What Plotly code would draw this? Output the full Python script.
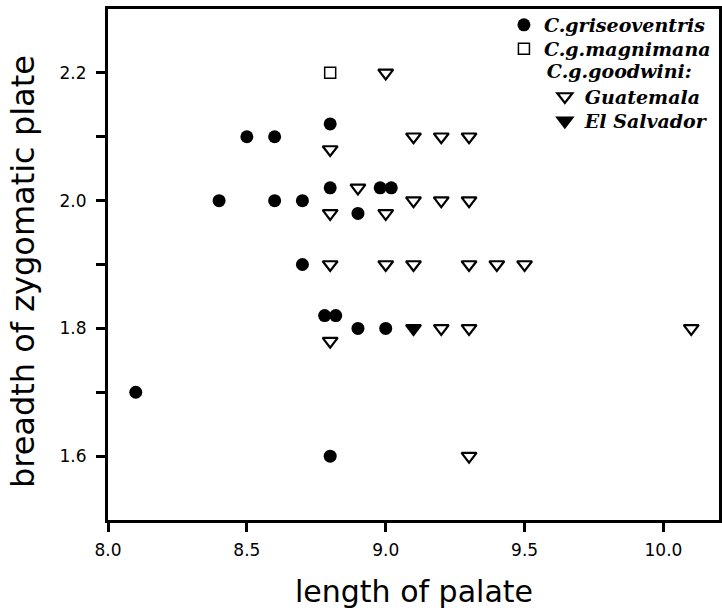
import plotly.graph_objects as go

# C. griseoventris (filled circles)
gris_x = [8.1, 8.4, 8.5, 8.6, 8.6, 8.7, 8.7, 8.8, 8.8, 8.98, 9.02, 8.9, 8.78, 8.82, 8.9, 9.0, 8.8]
gris_y = [1.7, 2.0, 2.1, 2.1, 2.0, 2.0, 1.9, 2.12, 2.02, 2.02, 2.02, 1.98, 1.82, 1.82, 1.8, 1.8, 1.6]

# C. g. magnimana (open square)
magn_x = [8.8]
magn_y = [2.2]

# C. g. goodwini, Guatemala (open down-triangles)
guat_x = [9.0, 9.1, 9.2, 9.3, 8.8, 8.9, 9.1, 9.2, 9.3, 8.8, 9.0,
          8.8, 9.0, 9.1, 9.3, 9.4, 9.5, 9.2, 9.3, 10.1, 8.8, 9.3]
guat_y = [2.2, 2.1, 2.1, 2.1, 2.08, 2.02, 2.0, 2.0, 2.0, 1.98, 1.98,
          1.9, 1.9, 1.9, 1.9, 1.9, 1.9, 1.8, 1.8, 1.8, 1.78, 1.6]

# C. g. goodwini, El Salvador (filled down-triangle)
salv_x = [9.1]
salv_y = [1.8]

x_ticks = [8.0, 8.5, 9.0, 9.5, 10.0]
x_labels = ["8.0", "8.5", "9.0", "9.5", "10.0"]
y_ticks = [1.6, 1.8, 2.0, 2.2]
y_labels = ["1.6", "1.8", "2.0", "2.2"]
y_minor = [1.7, 1.9, 2.1]

x_title = "length of palate"
y_title = "breadth of zygomatic plate"
group_title = "C.g.goodwini:"

leg_font = dict(family="DejaVu Serif", size=19, color="black", style="italic", weight="bold")

fig = go.Figure()
fig.add_trace(go.Scatter(x=gris_x, y=gris_y, mode="markers", name="C.griseoventris", legend="legend",
                         marker=dict(symbol="circle", size=13, color="black", line=dict(width=0))))
fig.add_trace(go.Scatter(x=magn_x, y=magn_y, mode="markers", name="C.g.magnimana", legend="legend2",
                         marker=dict(symbol="square-open", size=11, color="black", line=dict(width=1.5))))
fig.add_trace(go.Scatter(x=guat_x, y=guat_y, mode="markers", name="Guatemala", legend="legend3",
                         marker=dict(symbol="triangle-down", size=13, color="white",
                                     line=dict(width=2.2, color="black"))))
fig.add_trace(go.Scatter(x=salv_x, y=salv_y, mode="markers", name="El Salvador", legend="legend4",
                         marker=dict(symbol="triangle-down", size=13, color="black",
                                     line=dict(width=2.2, color="black"))))

axis_common = dict(showline=True, linecolor="black", linewidth=3, mirror=True,
                   ticks="outside", tickcolor="black", tickwidth=2.5, ticklen=9,
                   showgrid=False, zeroline=False, automargin=False,
                   tickfont=dict(family="DejaVu Sans", size=17, color="black"))

leg_common = dict(xanchor="left", yanchor="top", bgcolor="rgba(0,0,0,0)",
                  font=leg_font, itemwidth=30)

fig.update_layout(
    width=722, height=612,
    margin=dict(l=108, r=3, t=9, b=92, autoexpand=False),
    plot_bgcolor="white", paper_bgcolor="white",
    showlegend=True,
    xaxis=dict(range=[8.0, 10.2], tickvals=x_ticks, ticktext=x_labels,
               ticklabelstandoff=4, **axis_common),
    yaxis=dict(range=[1.5, 2.3], tickvals=y_ticks, ticktext=y_labels, ticklabelstandoff=6,
               minor=dict(tickvals=y_minor, ticks="outside", ticklen=9, tickwidth=2.5, tickcolor="black"),
               **axis_common),
    legend=dict(x=0.648, y=1.006, **leg_common),
    legend2=dict(x=0.648, y=0.959, **leg_common),
    legend3=dict(x=0.715, y=0.914, title=dict(text=group_title, font=leg_font, side="top"), **leg_common),
    legend4=dict(x=0.715, y=0.818, **leg_common),
    annotations=[
        dict(text=x_title, xref="paper", yref="paper", x=0.5, y=-0.139,
             xanchor="center", yanchor="middle", showarrow=False,
             font=dict(family="DejaVu Sans", size=30, color="black")),
        dict(text=y_title, xref="paper", yref="paper", x=-0.14, y=0.486, textangle=-90,
             xanchor="center", yanchor="middle", showarrow=False,
             font=dict(family="DejaVu Sans", size=32, color="black")),
    ],
)

fig.write_html("out.html", config={"displayModeBar": False},
               post_script="document.body.style.margin='0';")
